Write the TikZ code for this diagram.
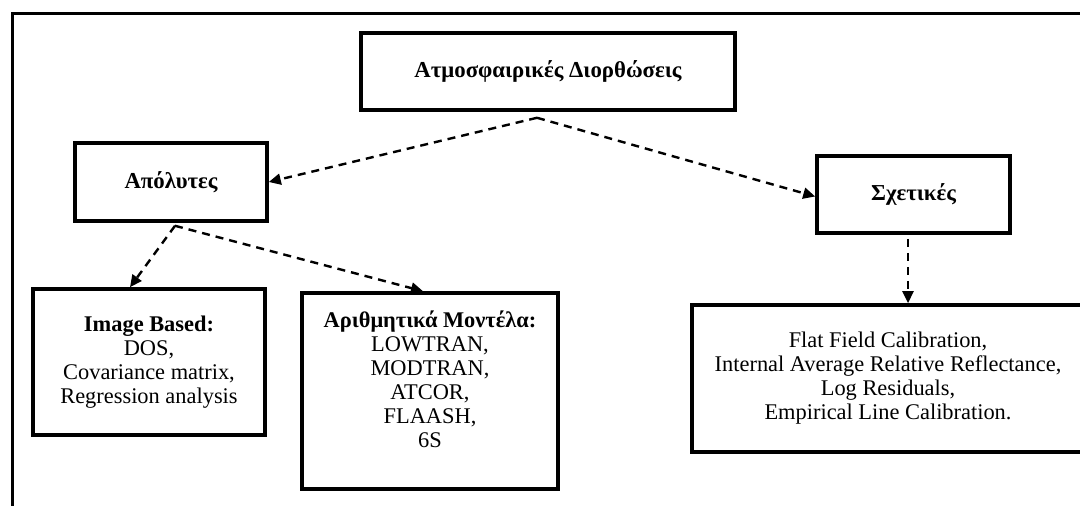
\documentclass[tikz,border=0pt]{standalone}
\usepackage{fontspec}
\setmainfont{Liberation Serif}
\usetikzlibrary{arrows.meta}

\begin{document}
\begin{tikzpicture}[
    x=0.5pt, y=-0.5pt,
    box/.style={draw, line width=1.8pt, inner sep=0pt, align=center, font=\fontsize{11.2}{12}\selectfont},
    head/.style={box, font=\fontsize{11.4}{12}\selectfont\bfseries},
    arr/.style={-{Triangle[length=6pt,width=5.5pt]}, line width=1.2pt, dash pattern=on 4pt off 3pt},
    frame/.style={line width=1.5pt}
]
\clip (0,0) rectangle (1080,506);
\fill[white] (0,0) rectangle (1080,506);
\draw[frame] (12,510) |- (1084,14);

\node[head, minimum width=187pt, minimum height=38.5pt] (T) at (548,71.5) {Ατμοσφαιρικές Διορθώσεις};
\node[head, minimum width=96pt, minimum height=39pt] (A) at (171,182) {Απόλυτες};
\node[head, minimum width=96.5pt, minimum height=38.5pt] (S) at (913.5,194.5) {Σχετικές};
\node[box, minimum width=116pt, minimum height=73pt] (I) at (149,362) {\textbf{Image Based:}\\DOS,\\Covariance matrix,\\Regression analysis};
\node[box, minimum width=128pt, minimum height=98pt] (M) at (430,391) {\textbf{Αριθμητικά Μοντέλα:}\\LOWTRAN,\\MODTRAN,\\ATCOR,\\FLAASH,\\6S\\ \mbox{}};
\node[box, minimum width=196pt, minimum height=73.5pt] (F) at (888,378.5) {Flat Field Calibration,\\Internal Average Relative Reflectance,\\Log Residuals,\\Empirical Line Calibration.};

\draw[arr] ([xshift=-5.5pt,yshift=-3pt]T.south) -- (A.east);
\draw[arr] ([xshift=-5.5pt,yshift=-3pt]T.south) -- ([yshift=-1pt]S.west);
\draw[arr] ([xshift=2pt,yshift=-1.5pt]A.south) -- ([xshift=-9.5pt]I.north);
\draw[arr] ([xshift=2pt,yshift=-1.5pt]A.south) -- ([xshift=-3.5pt]M.north);
\draw[arr] ([xshift=-2.75pt,yshift=-2pt]S.south) -- ([xshift=10pt]F.north);
\end{tikzpicture}
\end{document}
